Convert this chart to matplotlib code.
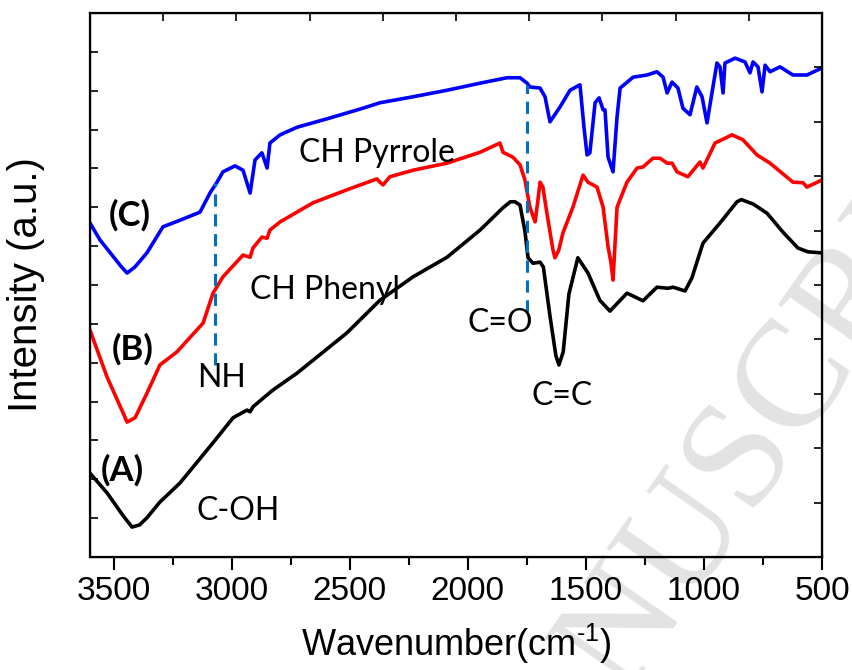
import matplotlib.pyplot as plt
import numpy as np

plt.rcParams['font.family'] = ['Liberation Sans', 'DejaVu Sans']
plt.rcParams['mathtext.fontset'] = 'custom'
plt.rcParams['mathtext.rm'] = 'Liberation Sans'
plt.rcParams['mathtext.it'] = 'Liberation Sans'

# (A) black
wn_a = [3600, 3528, 3460, 3422, 3390, 3359, 3304, 3219, 3079, 2994, 2935, 2922, 2910, 2850,
        2825, 2723, 2512, 2372, 2232, 2088, 1948, 1851, 1820, 1800, 1779, 1758, 1745, 1724,
        1694, 1680, 1652, 1627, 1614, 1596, 1572, 1534, 1491, 1441, 1398, 1385, 1326, 1258,
        1199, 1152, 1131, 1080, 1051, 1004, 932, 860, 842, 792, 733, 665, 602, 560, 500]
int_a = [15.4, 11.8, 7.6, 5.5, 5.9, 7.2, 10.1, 13.6, 21.0, 25.6, 27.0, 26.7, 27.6, 29.8,
         30.7, 33.8, 41.2, 47.2, 51.5, 55.1, 60.1, 64.2, 65.3, 65.3, 64.7, 59.9, 55.0, 54.0,
         54.2, 53.3, 44.3, 37.0, 35.3, 37.7, 48.3, 55.0, 52.2, 47.2, 45.2, 45.8, 48.5, 47.1,
         49.6, 49.4, 49.6, 48.9, 51.3, 57.7, 61.4, 65.3, 65.7, 64.9, 63.2, 59.7, 56.8, 56.1, 55.9]

# (B) red
wn_b = [3600, 3528, 3460, 3443, 3409, 3359, 3304, 3232, 3121, 3079, 3037, 2952, 2922, 2910,
        2872, 2850, 2838, 2795, 2656, 2512, 2385, 2372, 2359, 2330, 2232, 2088, 1948,
        1864, 1851, 1809, 1779, 1758, 1737, 1715, 1703, 1694, 1682, 1665, 1640, 1631, 1615,
        1597, 1555, 1512, 1491, 1453, 1427, 1406, 1394, 1385, 1368, 1326, 1283, 1258, 1216,
        1186, 1156, 1135, 1114, 1068, 1017, 1004, 953, 881, 835, 775, 720, 623, 580, 564, 500]
int_b = [41.7, 33.1, 26.5, 24.8, 25.6, 30.1, 35.3, 37.7, 43.0, 48.5, 51.5, 55.5, 55.1, 56.8,
         58.8, 58.6, 60.1, 61.6, 65.1, 67.5, 69.5, 68.9, 68.4, 69.9, 71.1, 72.4, 74.4,
         76.1, 74.4, 73.5, 72.1, 69.3, 64.3, 61.6, 65.6, 68.9, 68.0, 63.2, 56.6, 55.0, 56.4,
         59.6, 64.3, 70.2, 68.9, 68.0, 64.3, 57.0, 54.2, 50.9, 64.3, 68.9, 71.5, 71.7, 73.3,
         73.3, 72.4, 72.4, 70.8, 69.9, 72.6, 71.5, 76.1, 77.6, 76.7, 73.9, 72.4, 68.9, 68.8, 68.0, 69.3]

# (C) blue
wn_c = [3600, 3558, 3470, 3443, 3410, 3359, 3291, 3219, 3134, 3092, 3062, 3037, 2986, 2952,
        2922, 2901, 2872, 2850, 2838, 2795, 2723, 2584, 2444, 2372, 2232, 2088, 1948, 1834,
        1779, 1749, 1737, 1694, 1673, 1652, 1610, 1567, 1525, 1508, 1495, 1483, 1461,
        1444, 1427, 1419, 1406, 1385, 1368, 1355, 1300, 1241, 1199, 1173, 1156, 1135,
        1110, 1089, 1059, 1030, 1008, 987, 966, 945, 932, 919, 911, 868, 826, 805, 792,
        771, 754, 741, 720, 678, 623, 564, 500]
int_c = [61.4, 58.3, 53.5, 52.2, 53.3, 55.9, 60.7, 61.9, 63.4, 66.9, 68.9, 70.8, 71.9, 71.1,
         66.9, 73.0, 74.3, 71.5, 76.1, 77.6, 79.0, 80.7, 82.5, 83.5, 84.6, 85.8, 87.1, 88.1,
         88.1, 87.1, 86.4, 86.2, 84.6, 80.0, 82.7, 85.8, 86.8, 79.0, 73.9, 74.3, 83.5,
         84.4, 82.2, 82.2, 73.5, 70.8, 80.9, 86.2, 88.2, 88.6, 89.2, 88.2, 85.3, 87.3,
         86.2, 82.5, 81.3, 86.4, 84.6, 79.8, 85.3, 90.8, 90.1, 85.3, 90.8, 91.7, 91.0,
         89.0, 91.0, 90.1, 85.5, 90.4, 89.2, 90.1, 88.6, 88.6, 89.9]

# dashed marker lines: wavenumber, bottom, top
nh_line = (3071, 35.3, 68.8)
co_line = (1749, 45.0, 86.8)

fig = plt.figure(figsize=(8.52, 6.70), dpi=100)
fig.text(0.862, 0.295, 'MANUSCRIPT', fontsize=110, family='Liberation Serif',
         color='#e3e3e3', rotation=55, ha='center', va='center',
         rotation_mode='anchor', zorder=-5)

ax = fig.add_axes([90/852, 1-557/670, 732/852, 544/670])
ax.patch.set_alpha(0)

lw = 2.6
ax.plot(wn_a, int_a, color='black', lw=lw, solid_joinstyle='round')
ax.plot(wn_b, int_b, color='#ff0000', lw=lw, solid_joinstyle='round')
ax.plot(wn_c, int_c, color='#0000ff', lw=lw, solid_joinstyle='round')

for x, y0, y1 in (nh_line, co_line):
    ax.plot([x, x], [y0, y1], color='#0070c0', lw=2.2, ls=(0, (4, 2.5)))

ax.set_xlim(3600, 500)
ax.set_ylim(0, 100)

lab = dict(family='Lato', fontsize=25, fontweight='bold', color='black',
           ha='center', va='center')
ax.text(3431, 62.9, '(C)', **lab)
ax.text(3418, 38.1, '(B)', **lab)
ax.text(3464, 16.0, '(A)', **lab)

ann = dict(family='Lato', fontsize=23, color='black', ha='center', va='center')
ax.text(2385, 74.3, 'CH Pyrrole', **ann)
ax.text(2605, 49.1, 'CH Phenyl', **ann)
ax.text(3041, 32.9, 'NH', **ann)
ax.text(2973, 8.5, 'C-OH', **ann)
ax.text(1864, 43.0, 'C=O', **ann)
ax.text(1601, 29.6, 'C=C', **ann)

ax.set_xticks(np.arange(3500, 499, -500))
ax.set_xticks(np.arange(3250, 500, -500), minor=True)
ax.set_yticks(np.linspace(0, 100, 15))
ax.set_yticklabels([])
ax.tick_params(axis='x', which='major', direction='out', length=9, width=1.5,
               labelsize=24, pad=5)
ax.tick_params(axis='x', which='minor', direction='out', length=6, width=1.5)
ax.tick_params(axis='y', direction='in', length=6, width=1.2)
for s in ax.spines.values():
    s.set_linewidth(1.6)

axr = ax.twinx()
axr.set_ylim(0, 100)
axr.set_yticks(np.linspace(0, 100, 11))
axr.set_yticklabels([])
axr.tick_params(axis='y', direction='in', length=6, width=1.2)

axt = ax.twiny()
axt.set_xlim(3600, 500)
axt.set_xticks(np.linspace(3600, 500, 11))
axt.set_xticklabels([])
axt.tick_params(axis='x', direction='in', length=6, width=1.2)

ax.set_xlabel('Wavenumber(cm$^{\\mathregular{\u2010' + '1}}$)', fontsize=26, labelpad=10)
ax.set_ylabel('Intensity (a.u.)', fontsize=29)
ax.yaxis.set_label_coords(-0.061, 0.5)

fig.savefig('out.png', dpi=100)
